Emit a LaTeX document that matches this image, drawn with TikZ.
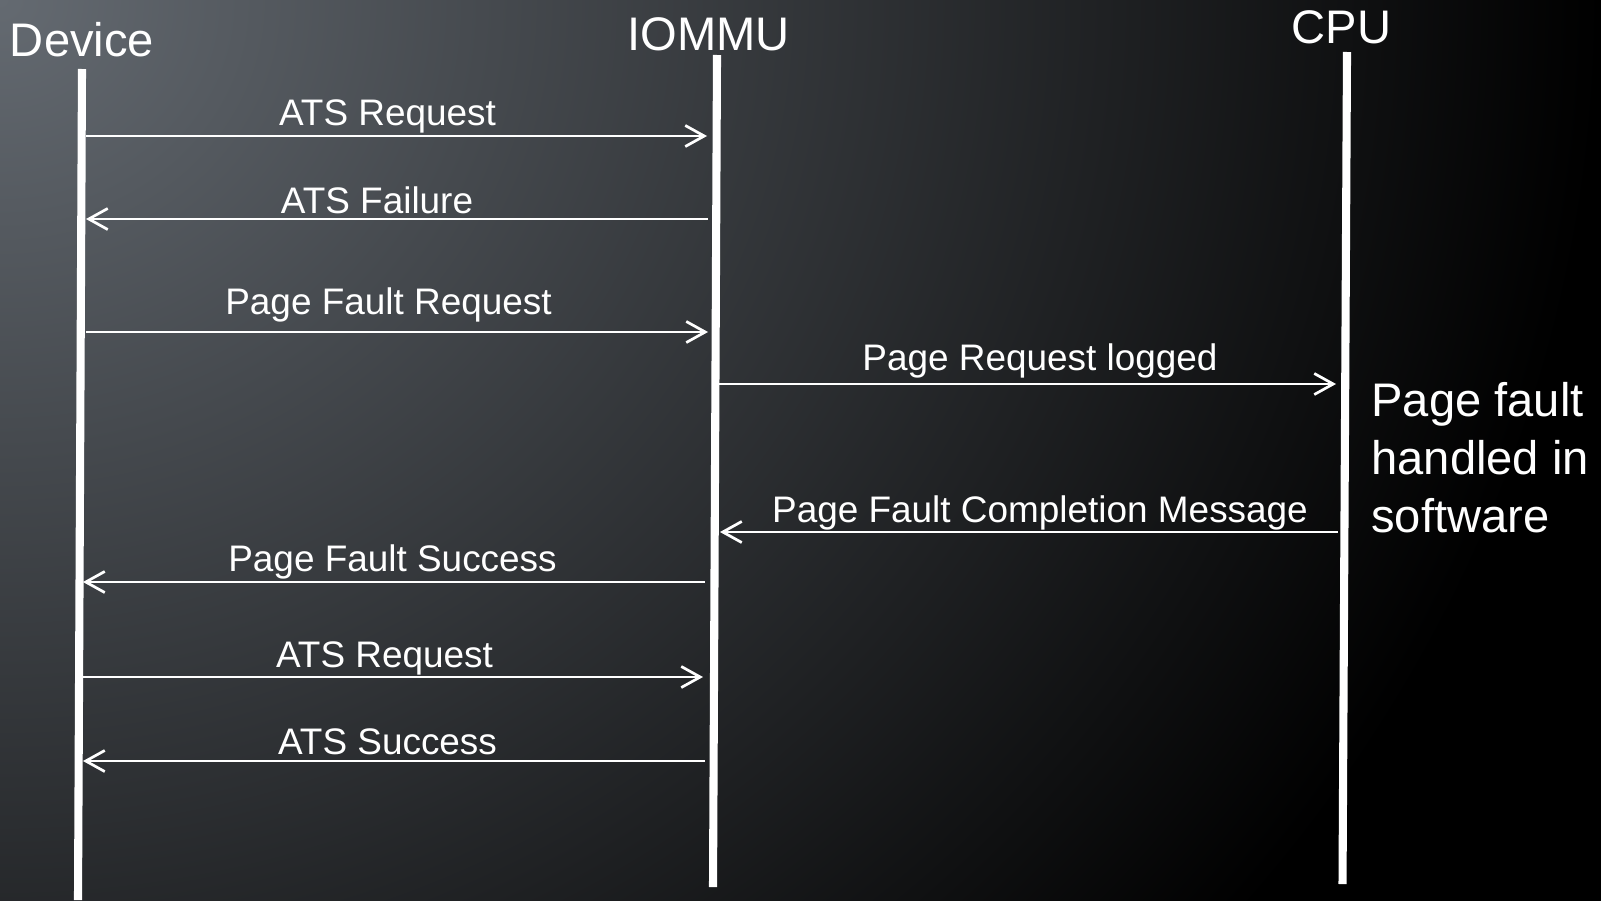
\documentclass[tikz,border=0pt]{standalone}
\usepackage{fontspec}
\setmainfont{Liberation Sans}
\usetikzlibrary{arrows.meta,positioning}
\definecolor{bgtop}{RGB}{100,106,113}

\begin{document}
\begin{tikzpicture}[x=0.01cm, y=-0.01cm, thick]
    % Styles
    \tikzstyle{actor} = [text=white, inner sep=0pt, anchor=base, font=\fontsize{13.4}{16}\selectfont]
    \tikzstyle{note} = [text=white, inner sep=0pt, anchor=base west, align=left, font=\fontsize{13.4}{16.4}\selectfont]
    \tikzstyle{lifeline} = [draw=white, line width=2.3pt]
    \tikzstyle{msg} = [draw=white, line width=0.77pt, -{Straight Barb[length=5.4pt,width=6pt]}]
    \tikzstyle{msg_label} = [text=white, inner sep=0pt, anchor=base, font=\fontsize{10.5}{12}\selectfont]

    % Background
    \useasboundingbox (0,0) rectangle (1601,900);
    \fill [black] (-20,-20) rectangle (1621,920);
    \begin{scope}
        \clip (-5,-5) rectangle (1606,905);
        \shade [inner color=bgtop, outer color=black] (0,0) ellipse (16cm and 14.5cm);
    \end{scope}

    % Actors
    \node [actor] (device) at (82,56) {Device};
    \node [actor] (iommu) at (708.5,50) {IOMMU};
    \node [actor] (cpu) at (1341.5,44) {CPU};

    % Lifelines
    \coordinate (dev_top) at (82,69);
    \coordinate (dev_bot) at (78,900);
    \coordinate (iommu_top) at (717,55);
    \coordinate (iommu_bot) at (713,887);
    \coordinate (cpu_top) at (1347,52);
    \coordinate (cpu_bot) at (1342.5,884);
    \draw [lifeline] (dev_top) -- (dev_bot);
    \draw [lifeline] (iommu_top) -- (iommu_bot);
    \draw [lifeline] (cpu_top) -- (cpu_bot);

    % Message ends
    \coordinate (d1) at (86,136);    \coordinate (i1) at (707,136);
    \coordinate (d2) at (86,219);    \coordinate (i2) at (708,219);
    \coordinate (d3) at (86,332);    \coordinate (i3) at (708,332);
    \coordinate (i4) at (719,384);   \coordinate (c4) at (1336,384);
    \coordinate (i5) at (720,532);   \coordinate (c5) at (1337.5,532);
    \coordinate (d6) at (83,582);    \coordinate (i6) at (705,582);
    \coordinate (d7) at (83,677);    \coordinate (i7) at (703,677);
    \coordinate (d8) at (83,761);    \coordinate (i8) at (705,761);

    % Messages
    \draw [msg] (d1) -- (i1);
    \draw [msg] (i2) -- (d2);
    \draw [msg] (d3) -- (i3);
    \draw [msg] (i4) -- (c4);
    \draw [msg] (c5) -- (i5);
    \draw [msg] (i6) -- (d6);
    \draw [msg] (d7) -- (i7);
    \draw [msg] (i8) -- (d8);

    % Labels
    \node [msg_label] (l1) at (387.5,125) {ATS Request};
    \node [msg_label] (l2) at (377,213) {ATS Failure};
    \node [msg_label] (l3) at (388.5,314) {Page Fault Request};
    \node [msg_label] (l4) at (1040,370) {Page Request logged};
    \node [msg_label] (l5) at (1040,522) {Page Fault Completion Message};
    \node [msg_label] (l6) at (392.5,571) {Page Fault Success};
    \node [msg_label] (l7) at (384.5,667) {ATS Request};
    \node [msg_label] (l8) at (387.5,754) {ATS Success};

    % Software note (base = last line)
    \node [note] (sw) at (1370,532) {Page fault\\handled in\\software};

\end{tikzpicture}
\end{document}
